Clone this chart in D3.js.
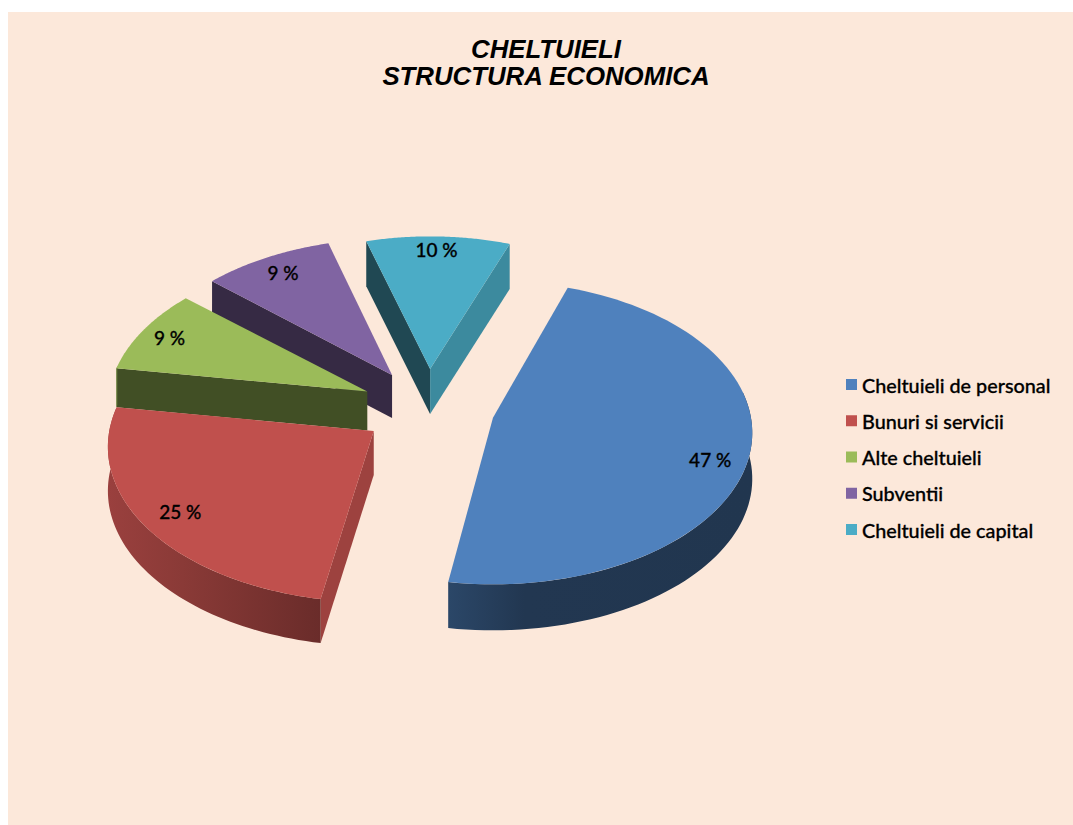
<!DOCTYPE html>
<html><head><meta charset="utf-8">
<script src="https://cdn.jsdelivr.net/npm/d3@7/dist/d3.min.js"></script>
<style>html,body{margin:0;padding:0;background:#fff;overflow:hidden}svg{display:block}</style>
</head><body><svg id="c" width="1073" height="825"></svg>
<script>
const titleLines = ["CHELTUIELI", "STRUCTURA ECONOMICA"];
const categories = ["Cheltuieli de personal", "Bunuri si servicii", "Alte cheltuieli", "Subventii", "Cheltuieli de capital"];
const values = [47, 25, 9, 9, 10];
const colors = ["#4f81bd", "#c0504d", "#9bbb59", "#8064a2", "#4bacc6"];

const svg = d3.select("#c");
svg.append("rect").attr("x", 8).attr("y", 12).attr("width", 1065).attr("height", 813).attr("fill", "#fce8da");

const cx = 428, cy = 408, rx = 258, ry = 150, persp = 0.1, explode = 0.26;
const radiusK = [1, 1.025, 1, 1, 0.97];
const depths = [46, 44, 39, 43, 45];
const nudge = [[-5, 9], [-2, 0], [-2, 0], [3, 0], [0, 0]];
const startTweak = [-1.3, 1.4, 0, 0.5, 0];
const endTweak = [0, 0, 0, 0.5, 0.5];
const rad = d3.scaleLinear().domain([0, 360]).range([0, 2 * Math.PI]);
const arcs = d3.pie().sort(null).value(d => d)
  .startAngle(rad(19.8)).endAngle(rad(379.8))(values);

function proj(a, r) {
  const v = Math.cos(a) * r, u = Math.sin(a) * r, s = 1 / (1 + persp * v);
  return [u * s * rx, -v * s * ry];
}
const line = d3.line();
const order = [4, 3, 2, 1, 0];
const defs = svg.append("defs");

order.forEach(i => {
  const d = arcs[i], c = d3.color(colors[i]), depth = depths[i], rk = radiusK[i];
  const mid = (d.startAngle + d.endAngle) / 2;
  const a0 = d.startAngle + rad(startTweak[i]), a1 = d.endAngle + rad(endTweak[i]);
  const ax = cx + explode * rx * Math.sin(mid), ay = cy - explode * ry * Math.cos(mid);
  const at = (a, r = 1) => { const p = proj(a, r * rk); return [ax + p[0], ay + p[1]]; };
  const down = p => [p[0], p[1] + depth];
  const g = svg.append("g");
  const A = [ax, ay];
  const S = at(a0), E = at(a1);
  const wall = (P, col) => g.append("path").attr("d", line([A, P, down(P), down(A)]) + "Z").attr("fill", col);
  const dark = k => d3.rgb(c.r * k, c.g * k, c.b * k).formatHex();

  // side walls of the wedge that face the viewer
  if (i === 4) { wall(S, dark(0.42)); wall(E, dark(0.8)); }
  if (i === 3 || i === 2) { wall(S, dark(0.42)); }
  if (i === 1) { wall(S, dark(0.82)); }

  // outer rim
  const lo = Math.max(a0, rad(80)), hi = Math.min(a1, rad(280));
  if (hi > lo) {
    const pts = d3.range(0, 61).map(t => at(lo + (hi - lo) * t / 60));
    const id = "rim" + i;
    const xs = pts.map(p => p[0]);
    const grad = defs.append("linearGradient").attr("id", id).attr("gradientUnits", "userSpaceOnUse")
      .attr("x1", d3.min(xs)).attr("x2", d3.max(xs)).attr("y1", 0).attr("y2", 0);
    const stops = i === 0 ? [[0, 0.55], [0.25, 0.43], [1, 0.42]] : [[0, 0.8], [0.35, 0.72], [1, 0.55]];
    stops.forEach(s => grad.append("stop").attr("offset", s[0]).attr("stop-color", dark(s[1])));
    g.append("path").attr("d", line(pts.concat(pts.map(down).reverse())) + "Z").attr("fill", `url(#${id})`);
  }

  // top face
  const top = [A].concat(d3.range(0, 81).map(t => at(a0 + (a1 - a0) * t / 80)));
  g.append("path").attr("d", line(top) + "Z").attr("fill", colors[i]);

  const L = at(mid, 0.87 / rk);
  g.append("text").attr("x", L[0] + nudge[i][0]).attr("y", L[1] + nudge[i][1]).attr("text-anchor", "middle").attr("dominant-baseline", "central")
    .attr("font-family", "Lato, 'Open Sans', sans-serif").attr("font-size", 19).attr("font-weight", 500)
    .attr("stroke", "#000").attr("stroke-width", 0.3).attr("fill", "#000").text(d.data + " %");
});

// legend
const ly = d3.scalePoint().domain(categories).range([384.5, 529.5]);
const lg = svg.append("g");
categories.forEach((n, i) => {
  lg.append("rect").attr("x", 846).attr("y", ly(n) - 5.5).attr("width", 11).attr("height", 11).attr("fill", colors[i]);
  lg.append("text").attr("x", 862).attr("y", ly(n)).attr("dominant-baseline", "central")
    .attr("font-family", "Lato, 'Open Sans', sans-serif").attr("font-size", 19.8).attr("font-weight", 500)
    .attr("stroke", "#000").attr("stroke-width", 0.3).attr("fill", "#000").text(n);
});

// title
titleLines.forEach((t, i) => {
  svg.append("text").attr("x", 546).attr("y", 58 + i * 27).attr("text-anchor", "middle")
    .attr("font-family", "'Liberation Sans', Arial, sans-serif").attr("font-size", 25.8)
    .attr("font-weight", 700).attr("font-style", "italic").attr("fill", "#000").text(t);
});
</script></body></html>
